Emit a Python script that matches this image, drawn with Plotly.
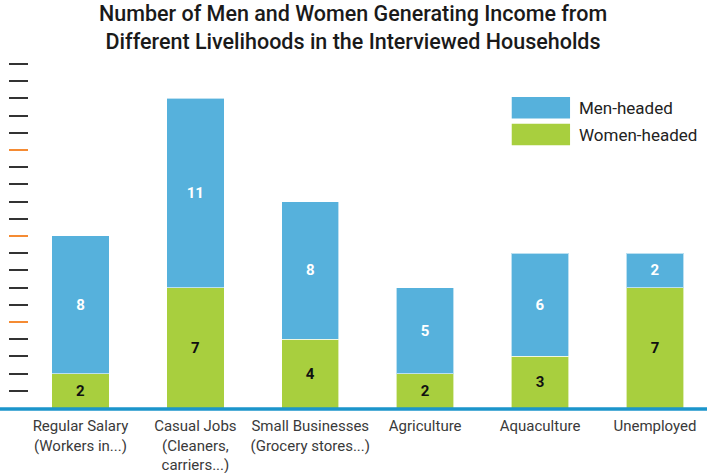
import plotly.graph_objects as go

categories = ["Regular Salary<br>(Workers in...)", "Casual Jobs<br>(Cleaners,<br>carriers...)",
              "Small Businesses<br>(Grocery stores...)", "Agriculture", "Aquaculture", "Unemployed"]
women_headed = [2, 7, 4, 2, 3, 7]
men_headed = [8, 11, 8, 5, 6, 2]
dark_ticks = [v for v in range(1, 21) if v % 5 != 0] + [20]
orange_ticks = [5, 10, 15]

BLUE = "#56b1dc"
GREEN = "#a8cf3e"
FONT = "Roboto"

fig = go.Figure()
fig.add_trace(go.Bar(
    x=categories, y=women_headed, name="Women-headed",
    marker=dict(color=GREEN, line=dict(color="rgba(255,255,255,0.6)", width=1)),
    text=women_headed, textposition="inside", insidetextanchor="middle",
    textfont=dict(color="#111", size=15, family=FONT, weight="bold"),
    width=0.5, showlegend=False,
))
fig.add_trace(go.Bar(
    x=categories, y=men_headed, name="Men-headed",
    marker=dict(color=BLUE, line=dict(color="rgba(255,255,255,0.6)", width=1)),
    text=men_headed, textposition="inside", insidetextanchor="middle",
    textfont=dict(color="white", size=15, family=FONT, weight="bold"),
    width=0.5, showlegend=False,
))
# empty trace so the orange tick axis gets drawn
fig.add_trace(go.Scatter(x=[], y=[], yaxis="y2", showlegend=False, hoverinfo="skip"))

yr = [0, 20.52]
fig.update_layout(
    barmode="stack",
    width=707, height=473,
    margin=dict(l=29, r=0, t=55, b=65),
    paper_bgcolor="white", plot_bgcolor="white",
    font=dict(family=FONT, color="#444"),
    xaxis=dict(range=[-0.448, 5.453], showgrid=False, zeroline=False, showline=False,
               automargin=False, tickfont=dict(size=15, color="#3a3a3a", family=FONT),
               ticks="outside", ticklen=4, tickcolor="rgba(0,0,0,0)"),
    yaxis=dict(range=yr, showgrid=False, zeroline=False, showline=False, showticklabels=False,
               automargin=False, ticks="outside", tickvals=dark_ticks, ticklen=19, tickwidth=2,
               tickcolor="#333"),
    yaxis2=dict(range=yr, overlaying="y", side="left", anchor="x", showgrid=False, zeroline=False,
                automargin=False, showline=False, showticklabels=False, ticks="outside",
                tickvals=orange_ticks, ticklen=19, tickwidth=2, tickcolor="#f58b33"),
    showlegend=False,
)

# title as a paper annotation above the plot
fig.add_annotation(xref="paper", yref="paper", x=0.478, y=1.158, xanchor="center", yanchor="top",
                   showarrow=False, align="center",
                   text="Number of Men and Women Generating Income from<br>"
                        "Different Livelihoods in the Interviewed Households",
                   font=dict(size=21.5, color="#1a1a1a", family=FONT, weight=500))

# baseline across the whole width (paper ref so it is not clipped)
fig.add_shape(type="line", xref="paper", yref="paper", x0=-0.05, x1=1.01, y0=-0.003, y1=-0.003,
              layer="above", line=dict(color="#1b95cb", width=3.5))

# legend drawn as swatches
for i, (label, color) in enumerate([("Men-headed", BLUE), ("Women-headed", GREEN)]):
    top = 0.881 - i * 0.076
    fig.add_shape(type="rect", xref="paper", yref="paper", x0=0.712, x1=0.798,
                  y0=top - 0.061, y1=top, fillcolor=color, line=dict(width=0))
    fig.add_annotation(xref="paper", yref="paper", x=0.808, y=top - 0.031, text=label,
                       showarrow=False, xanchor="left", yanchor="middle",
                       font=dict(size=17, color="#222", family=FONT))

fig.write_html("out.html", config={"displayModeBar": False},
               post_script="document.body.style.margin='0';")
